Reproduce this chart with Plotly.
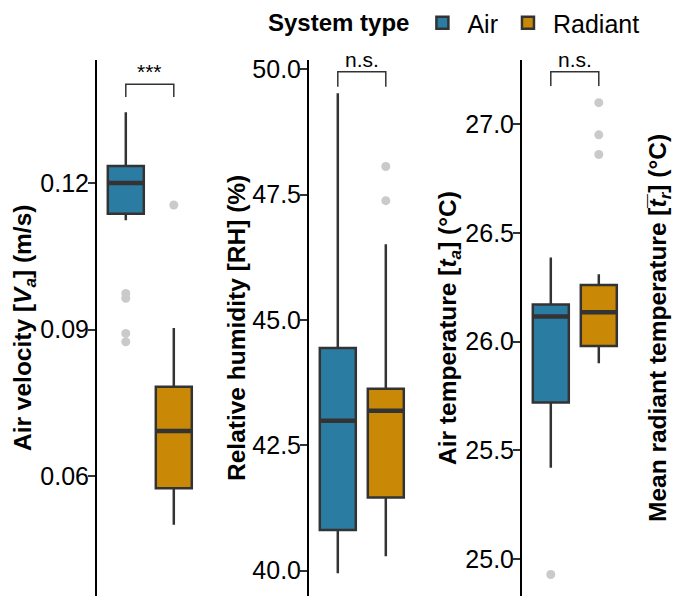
import plotly.graph_objects as go

# ---- data ----
groups = ["Air", "Radiant"]
group_x = [1, 2]
colors = {"Air": "#2B7CA3", "Radiant": "#C98805"}

# Air velocity (m/s)
va_q1 = [0.1137, 0.0575]
va_med = [0.1200, 0.0692]
va_q3 = [0.1235, 0.0783]
va_lo = [0.1124, 0.0500]
va_hi = [0.1345, 0.0903]
va_out = {"Air": [0.0974, 0.0964, 0.0892, 0.0875], "Radiant": [0.1155]}

# Relative humidity (%)
rh_q1 = [40.81, 41.46]
rh_med = [42.99, 43.19]
rh_q3 = [44.44, 43.63]
rh_lo = [39.95, 40.29]
rh_hi = [49.52, 46.51]
rh_out = {"Air": [], "Radiant": [48.06, 47.38]}

# Air / mean radiant temperature (°C)
t_q1 = [25.72, 25.98]
t_med = [26.115, 26.135]
t_q3 = [26.17, 26.26]
t_lo = [25.42, 25.90]
t_hi = [26.387, 26.31]
t_out = {"Air": [24.93], "Radiant": [27.098, 26.95, 26.86]}

sig_labels = ["***", "n.s.", "n.s."]
bracket_top = [0.1402, 49.95, 27.240]
bracket_bot = [0.1376, 49.65, 27.175]

va_ticks = [0.06, 0.09, 0.12]
va_ticktext = ["0.06", "0.09", "0.12"]
rh_ticks = [40.0, 42.5, 45.0, 47.5, 50.0]
rh_ticktext = ["40.0", "42.5", "45.0", "47.5", "50.0"]
t_ticks = [25.0, 25.5, 26.0, 26.5, 27.0]
t_ticktext = ["25.0", "25.5", "26.0", "26.5", "27.0"]

y_titles = [
    "<b>Air velocity [<i>V</i><sub><i>a</i></sub>] (m/s)</b>",
    "<b>Relative humidity [RH] (%)</b>",
    "<b>Air temperature [<i>t</i><sub><i>a</i></sub>] (°C)</b>",
]
right_title = "<b>Mean radiant temperature [<i>t\u0305</i><sub><i>r</i></sub>] (°C)</b>"

# ---- styling ----
FONT = "Liberation Sans, Arial, Helvetica, sans-serif"
LINE = "#333333"
BOXW = 0.75
OUTC = "#CACACA"

panels = [
    (va_q1, va_med, va_q3, va_lo, va_hi, va_out, [0.03543, 0.14519], va_ticks, va_ticktext),
    (rh_q1, rh_med, rh_q3, rh_lo, rh_hi, rh_out, [39.495, 50.185], rh_ticks, rh_ticktext),
    (t_q1, t_med, t_q3, t_lo, t_hi, t_out, [24.831, 27.294], t_ticks, t_ticktext),
]
x_domains = [[97 / 674, 202.6 / 674], [309 / 674, 414.6 / 674], [522 / 674, 627.6 / 674]]

fig = go.Figure()
layout = {}
annotations = []

for p, (q1, med, q3, lo, hi, outs, yr, tv, tt) in enumerate(panels):
    xa = "x" if p == 0 else f"x{p + 1}"
    ya = "y" if p == 0 else f"y{p + 1}"
    for i, g in enumerate(groups):
        fig.add_trace(go.Box(
            x=[group_x[i]], q1=[q1[i]], median=[med[i]], q3=[q3[i]],
            lowerfence=[lo[i]], upperfence=[hi[i]],
            width=BOXW, whiskerwidth=0, boxpoints=False,
            fillcolor=colors[g], line=dict(color=LINE, width=2.5),
            name=g, legendgroup=g, showlegend=(p == 0),
            xaxis=xa, yaxis=ya,
        ))
        # thicker median bar
        fig.add_trace(go.Scatter(
            x=[group_x[i] - BOXW / 2, group_x[i] + BOXW / 2], y=[med[i], med[i]],
            mode="lines", line=dict(color=LINE, width=4.5),
            showlegend=False, hoverinfo="skip", xaxis=xa, yaxis=ya,
        ))
        if outs[g]:
            fig.add_trace(go.Scatter(
                x=[group_x[i]] * len(outs[g]), y=outs[g], mode="markers",
                marker=dict(color=OUTC, size=9),
                showlegend=False, xaxis=xa, yaxis=ya,
            ))
    # significance bracket
    fig.add_trace(go.Scatter(
        x=[group_x[0], group_x[0], group_x[1], group_x[1]],
        y=[bracket_bot[p], bracket_top[p], bracket_top[p], bracket_bot[p]],
        mode="lines", line=dict(color=LINE, width=1.5),
        showlegend=False, hoverinfo="skip", cliponaxis=False, xaxis=xa, yaxis=ya,
    ))
    annotations.append(dict(
        x=(group_x[0] + group_x[1]) / 2, y=bracket_top[p], xref=xa, yref=ya,
        text=sig_labels[p], showarrow=False, yanchor="bottom", yshift=-1,
        font=dict(family=FONT, size=21, color="black"),
    ))
    layout[f"xaxis{'' if p == 0 else p + 1}"] = dict(
        domain=x_domains[p], range=[0.4, 2.6], anchor=ya,
        visible=False, fixedrange=True,
    )
    layout[f"yaxis{'' if p == 0 else p + 1}"] = dict(
        domain=[0, 1], range=yr, anchor=xa,
        showline=True, linecolor="black", linewidth=2,
        ticks="outside", ticklen=7, tickwidth=2, tickcolor=LINE,
        tickvals=tv, ticktext=tt, showgrid=False, zeroline=False,
        tickfont=dict(family=FONT, size=25, color="black"),
        ticklabelstandoff=-6,
    )

title_x = [24, 236, 449]
for p in range(3):
    annotations.append(dict(
        x=title_x[p] / 674, y=0.5, xref="paper", yref="paper",
        text=y_titles[p], textangle=-90, showarrow=False,
        xanchor="center", yanchor="middle",
        font=dict(family=FONT, size=24.5, color="black"),
    ))
annotations.append(dict(
    x=659 / 674, y=0.5, xref="paper", yref="paper",
    text=right_title, textangle=-90, showarrow=False,
    xanchor="center", yanchor="middle",
    font=dict(family=FONT, size=24.5, color="black"),
))

fig.update_layout(
    width=674, height=596,
    margin=dict(l=0, r=0, t=60, b=0),
    paper_bgcolor="white", plot_bgcolor="white",
    annotations=annotations,
    legend=dict(
        orientation="h", x=266 / 674, xanchor="left",
        yref="container", y=1.0, yanchor="top",
        title=dict(text="<b>System type</b>", side="left",
                   font=dict(family=FONT, size=24, color="black")),
        font=dict(family=FONT, size=25, color="black"),
        itemwidth=40,
    ),
    **layout,
)

fig.write_html("out.html")
